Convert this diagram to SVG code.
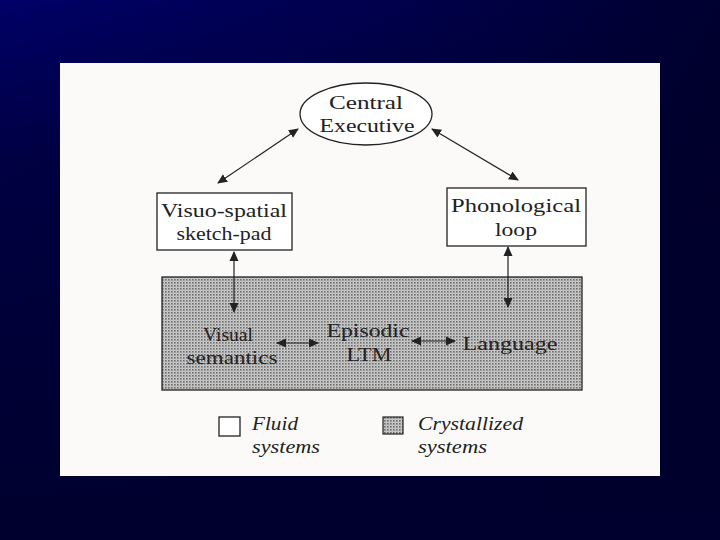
<svg xmlns="http://www.w3.org/2000/svg" width="720" height="540" viewBox="0 0 720 540">
<defs>
<linearGradient id="bg" x1="0" y1="0" x2="1" y2="0.35">
<stop offset="0" stop-color="#000068"/>
<stop offset="0.5" stop-color="#00004c"/>
<stop offset="1" stop-color="#000028"/>
</linearGradient>
<linearGradient id="bgv" x1="0" y1="0" x2="0" y2="1">
<stop offset="0" stop-color="#000030" stop-opacity="0"/>
<stop offset="0.3" stop-color="#00002e" stop-opacity="0.6"/>
<stop offset="1" stop-color="#00002e" stop-opacity="1"/>
</linearGradient>
<pattern id="dots" width="3" height="3" patternUnits="userSpaceOnUse">
<rect width="3" height="3" fill="#cdcdcd"/>
<rect x="0" y="0" width="1.6" height="1.6" fill="#6a6a6a"/>
<rect x="1.5" y="1.5" width="1" height="1" fill="#959595"/>
</pattern>
<marker id="ah" viewBox="0 0 10 10" refX="9" refY="5" markerWidth="10" markerHeight="10" markerUnits="userSpaceOnUse" orient="auto-start-reverse">
<path d="M0,0.5 L10,5 L0,9.5 z" fill="#222"/>
</marker>
<style>
.t{font-family:"Liberation Serif","DejaVu Serif",serif;font-size:19px;fill:#222;text-anchor:middle}
.ti{font-family:"Liberation Serif","DejaVu Serif",serif;font-size:19px;font-style:italic;fill:#222}
.box{fill:#fff;stroke:#222;stroke-width:1.3}
.c{stroke:#222;stroke-width:1.2;fill:none;marker-start:url(#ah);marker-end:url(#ah)}
</style>
</defs>
<rect width="720" height="540" fill="url(#bg)"/>
<rect width="720" height="540" fill="url(#bgv)"/>
<rect x="60" y="63" width="600" height="413" fill="#fbfaf8"/>

<g id="crystallized">
<rect x="162" y="277" width="420" height="113" fill="url(#dots)" stroke="#222" stroke-width="1.3"/>
</g>

<g id="central-executive">
<ellipse cx="366" cy="114" rx="66" ry="31" class="box"/>
<text class="t" x="366" y="109" textLength="74" lengthAdjust="spacingAndGlyphs">Central</text>
<text class="t" x="367" y="132" textLength="95" lengthAdjust="spacingAndGlyphs">Executive</text>
</g>

<g id="visuo-spatial">
<rect x="157" y="193" width="135" height="57" class="box"/>
<text class="t" x="224" y="217" textLength="126" lengthAdjust="spacingAndGlyphs">Visuo-spatial</text>
<text class="t" x="224" y="240" textLength="95" lengthAdjust="spacingAndGlyphs">sketch-pad</text>
</g>

<g id="phonological">
<rect x="447" y="188" width="139" height="58" class="box"/>
<text class="t" x="516" y="212" textLength="130" lengthAdjust="spacingAndGlyphs">Phonological</text>
<text class="t" x="516" y="236" textLength="42" lengthAdjust="spacingAndGlyphs">loop</text>
</g>

<g id="visual-semantics">
<text class="t" x="228" y="341" textLength="50" lengthAdjust="spacingAndGlyphs">Visual</text>
<text class="t" x="232" y="364" textLength="91" lengthAdjust="spacingAndGlyphs">semantics</text>
</g>

<g id="episodic">
<text class="t" x="368" y="337" textLength="83" lengthAdjust="spacingAndGlyphs">Episodic</text>
<text class="t" x="369" y="361" textLength="45" lengthAdjust="spacingAndGlyphs">LTM</text>
</g>

<g id="language">
<text class="t" x="510" y="350" textLength="95" lengthAdjust="spacingAndGlyphs">Language</text>
</g>

<g id="connectors">
<line x1="218" y1="183" x2="298" y2="129" class="c"/>
<line x1="432" y1="129" x2="518" y2="180" class="c"/>
<line x1="234" y1="252" x2="234" y2="312" class="c"/>
<line x1="508" y1="247" x2="508" y2="307" class="c"/>
<line x1="277" y1="343" x2="318" y2="343" class="c"/>
<line x1="412" y1="341" x2="455" y2="341" class="c"/>
</g>

<g id="legend">
<rect x="219" y="417" width="21" height="19" class="box"/>
<text class="ti" x="252" y="430" textLength="46" lengthAdjust="spacingAndGlyphs">Fluid</text>
<text class="ti" x="252" y="453" textLength="68" lengthAdjust="spacingAndGlyphs">systems</text>
<rect x="383" y="417" width="20" height="17" fill="url(#dots)" stroke="#222" stroke-width="1.2"/>
<text class="ti" x="418" y="430" textLength="105" lengthAdjust="spacingAndGlyphs">Crystallized</text>
<text class="ti" x="418" y="453" textLength="69" lengthAdjust="spacingAndGlyphs">systems</text>
</g>
</svg>
